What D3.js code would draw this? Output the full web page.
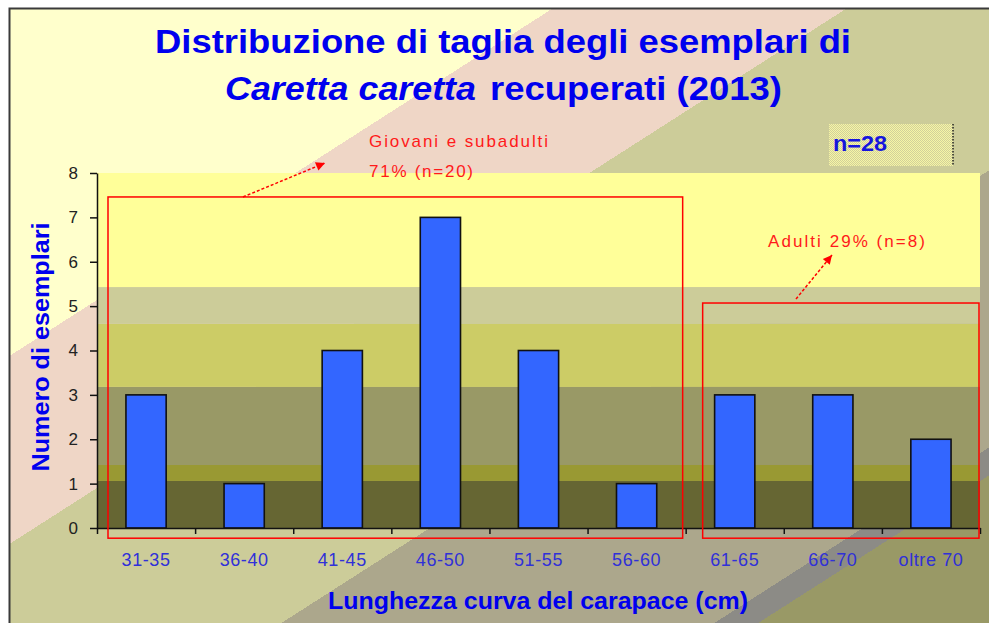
<!DOCTYPE html>
<html>
<head>
<meta charset="utf-8">
<script src="https://cdn.jsdelivr.net/npm/d3@7"></script>
<style>
body { margin: 0; background: #fff; }
svg { display: block; font-family: "Liberation Sans", Arial, sans-serif; }
</style>
</head>
<body>
<svg id="chart" width="989" height="623"></svg>
<script>
// data
const categories = ["31-35", "36-40", "41-45", "46-50", "51-55", "56-60", "61-65", "66-70", "oltre 70"];
const counts = [3, 1, 4, 7, 4, 1, 3, 3, 2];
const yTicks = [0, 1, 2, 3, 4, 5, 6, 7, 8];
const groupNames = ["Giovani e subadulti", "Adulti"];
const groupFirst = ["31-35", "61-65"];
const groupLast = ["56-60", "oltre 70"];
const groupN = [20, 8];
const groupPct = [71, 29];
const total = 28;

const width = 989, height = 623;
const plot = {left: 97, right: 980, top: 173, bottom: 528};

const svg = d3.select("#chart");
const defs = svg.append("defs");

// diagonal bands behind everything (hard-stop gradient, lines y + 0.64x = c)
const bgBands = [
  [0, "#ffffcc"], [362, "#efd6c6"], [550, "#cccc99"],
  [803, "#aca78c"], [1080, "#8c8b86"], [1108, "#999966"]
];
const cMax = 1255.6;
const grad = defs.append("linearGradient")
    .attr("id", "bg")
    .attr("gradientUnits", "userSpaceOnUse")
    .attr("x1", 0).attr("y1", 0).attr("x2", 570).attr("y2", 891);
bgBands.forEach(([c, col], i) => {
  const next = i < bgBands.length - 1 ? bgBands[i + 1][0] : cMax;
  grad.append("stop").attr("offset", c / cMax).attr("stop-color", col);
  grad.append("stop").attr("offset", next / cMax).attr("stop-color", col);
});

// checker fill for the n= box
const pat = defs.append("pattern")
    .attr("id", "dots").attr("patternUnits", "userSpaceOnUse")
    .attr("width", 2).attr("height", 2);
pat.append("rect").attr("width", 2).attr("height", 2).attr("fill", "#f6f6a6");
pat.append("rect").attr("width", 1).attr("height", 1).attr("fill", "#d2d09a");
pat.append("rect").attr("x", 1).attr("y", 1).attr("width", 1).attr("height", 1).attr("fill", "#d2d09a");

defs.append("marker")
    .attr("id", "arrow")
    .attr("viewBox", "0 0 10 10")
    .attr("refX", 10).attr("refY", 5)
    .attr("markerUnits", "userSpaceOnUse")
    .attr("markerWidth", 11).attr("markerHeight", 9)
    .attr("orient", "auto")
  .append("path")
    .attr("d", "M0,0L10,5L0,10z")
    .attr("fill", "#ff0000");

svg.append("rect")
    .attr("x", 10).attr("y", 9)
    .attr("width", width - 10).attr("height", height - 9)
    .attr("fill", "url(#bg)");

svg.append("path")
    .attr("d", `M9.5,${height}V8.5H${width}`)
    .attr("fill", "none")
    .attr("stroke", "#3a3a3a")
    .attr("stroke-width", 2);

// scales
const x = d3.scaleBand()
    .domain(categories)
    .range([plot.left, plot.right])
    .paddingInner(0.59)
    .paddingOuter(0.295);

const y = d3.scaleLinear()
    .domain([0, 8])
    .range([plot.bottom, plot.top]);

const cell = c => x(c) - (x.step() - x.bandwidth()) / 2;

// plot background bands (in y units)
const plotBands = [
  [0, 1.06, "#666633"], [1.06, 1.42, "#999933"], [1.42, 3.18, "#999966"],
  [3.18, 4.6, "#cccc66"], [4.6, 5.43, "#cccc99"], [5.43, 8, "#ffff99"]
];
svg.append("g")
  .selectAll("rect")
  .data(plotBands)
  .join("rect")
    .attr("x", plot.left)
    .attr("width", plot.right - plot.left)
    .attr("y", d => y(d[1]))
    .attr("height", d => y(d[0]) - y(d[1]))
    .attr("fill", d => d[2]);

// bars
svg.append("g")
  .selectAll("rect")
  .data(counts)
  .join("rect")
    .attr("x", (d, i) => x(categories[i]))
    .attr("width", x.bandwidth())
    .attr("y", d => y(d))
    .attr("height", d => y(0) - y(d))
    .attr("fill", "#3366ff")
    .attr("stroke", "#111")
    .attr("stroke-width", 1.6);

// axes
const yAxis = svg.append("g")
    .attr("transform", `translate(${plot.left},0)`)
    .call(d3.axisLeft(y).tickValues(yTicks).tickSize(7).tickSizeOuter(0).tickPadding(12));
yAxis.selectAll("line, path").attr("stroke", "#111").attr("stroke-width", 1.5);
yAxis.selectAll("text")
    .attr("font-family", "Liberation Sans, Arial, sans-serif")
    .attr("font-size", 17)
    .attr("fill", "#222");

const xEdges = d3.scaleLinear().domain([0, categories.length]).range([plot.left, plot.right]);
const xTicks = svg.append("g")
    .attr("transform", `translate(0,${plot.bottom})`)
    .call(d3.axisBottom(xEdges).tickValues(d3.range(0, categories.length + 1)).tickFormat("").tickSize(6).tickSizeOuter(0));
xTicks.selectAll("line, path").attr("stroke", "#111").attr("stroke-width", 1.5);

const xLabels = svg.append("g")
    .attr("transform", `translate(0,${plot.bottom})`)
    .call(d3.axisBottom(x).tickSize(0).tickPadding(25));
xLabels.select(".domain").remove();
xLabels.selectAll("text")
    .attr("font-family", "Liberation Sans, Arial, sans-serif")
    .attr("font-size", 18)
    .attr("letter-spacing", 0.6)
    .attr("fill", "#3030d8");

// group boxes and annotations
const boxTop = [7.46, 5.07];
const boxInset = [[11, 3], [17, 1]];
const boxes = svg.append("g");
groupNames.forEach((g, i) => {
  const x0 = cell(groupFirst[i]) + boxInset[i][0];
  const x1 = cell(groupLast[i]) + x.step() - boxInset[i][1];
  boxes.append("rect")
      .attr("x", x0).attr("y", y(boxTop[i]))
      .attr("width", x1 - x0).attr("height", y(-0.23) - y(boxTop[i]))
      .attr("fill", "none")
      .attr("stroke", "#ff0000")
      .attr("stroke-width", 1.5);
});

const ann = svg.append("g")
    .attr("font-size", 17)
    .attr("fill", "#ff1a1a");
ann.append("text")
    .attr("x", 369).attr("y", 147)
    .attr("textLength", 179).attr("lengthAdjust", "spacing")
    .text(groupNames[0]);
ann.append("text")
    .attr("x", 369).attr("y", 177)
    .attr("textLength", 104).attr("lengthAdjust", "spacing")
    .text(`${groupPct[0]}% (n=${groupN[0]})`);
ann.append("text")
    .attr("x", 768).attr("y", 247)
    .attr("textLength", 157).attr("lengthAdjust", "spacing")
    .text(`${groupNames[1]} ${groupPct[1]}% (n=${groupN[1]})`);

const arrows = [[243, y(boxTop[0]), 325, 163], [796, y(boxTop[1]) - 4, 832, 255]];
ann.selectAll("line")
  .data(arrows)
  .join("line")
    .attr("x1", d => d[0]).attr("y1", d => d[1])
    .attr("x2", d => d[2]).attr("y2", d => d[3])
    .attr("stroke", "#ff0000")
    .attr("stroke-width", 1.5)
    .attr("stroke-dasharray", "3,2")
    .attr("marker-end", "url(#arrow)");

// n= box
svg.append("rect")
    .attr("x", 829).attr("y", 124)
    .attr("width", 124).attr("height", 42)
    .attr("fill", "url(#dots)");
svg.append("line")
    .attr("x1", 953).attr("x2", 953)
    .attr("y1", 124).attr("y2", 166)
    .attr("stroke", "#222")
    .attr("stroke-width", 1.5)
    .attr("stroke-dasharray", "1.5,1.5");
svg.append("text")
    .attr("x", 833).attr("y", 151)
    .attr("font-size", 22)
    .attr("font-weight", "bold")
    .attr("fill", "#1515dd")
    .attr("textLength", 54).attr("lengthAdjust", "spacingAndGlyphs")
    .text(`n=${total}`);

// titles
const blue = "#0000ee";
svg.append("text")
    .attr("x", 155).attr("y", 53)
    .attr("font-size", 33)
    .attr("font-weight", "bold")
    .attr("fill", blue)
    .attr("textLength", 696).attr("lengthAdjust", "spacingAndGlyphs")
    .text("Distribuzione di taglia degli esemplari di");
svg.append("text")
    .attr("x", 225).attr("y", 100)
    .attr("font-size", 33)
    .attr("font-style", "italic")
    .attr("font-weight", "bold")
    .attr("fill", blue)
    .attr("textLength", 251).attr("lengthAdjust", "spacingAndGlyphs")
    .text("Caretta caretta");
svg.append("text")
    .attr("x", 490).attr("y", 100)
    .attr("font-size", 33)
    .attr("font-weight", "bold")
    .attr("fill", blue)
    .attr("textLength", 292).attr("lengthAdjust", "spacingAndGlyphs")
    .text("recuperati (2013)");

svg.append("text")
    .attr("transform", "translate(49,347) rotate(-90)")
    .attr("text-anchor", "middle")
    .attr("font-size", 23)
    .attr("font-weight", "bold")
    .attr("fill", blue)
    .attr("textLength", 249).attr("lengthAdjust", "spacingAndGlyphs")
    .text("Numero di esemplari");

svg.append("text")
    .attr("x", 328).attr("y", 609)
    .attr("font-size", 24)
    .attr("font-weight", "bold")
    .attr("fill", blue)
    .attr("textLength", 420).attr("lengthAdjust", "spacingAndGlyphs")
    .text("Lunghezza curva del carapace (cm)");
</script>
</body>
</html>
